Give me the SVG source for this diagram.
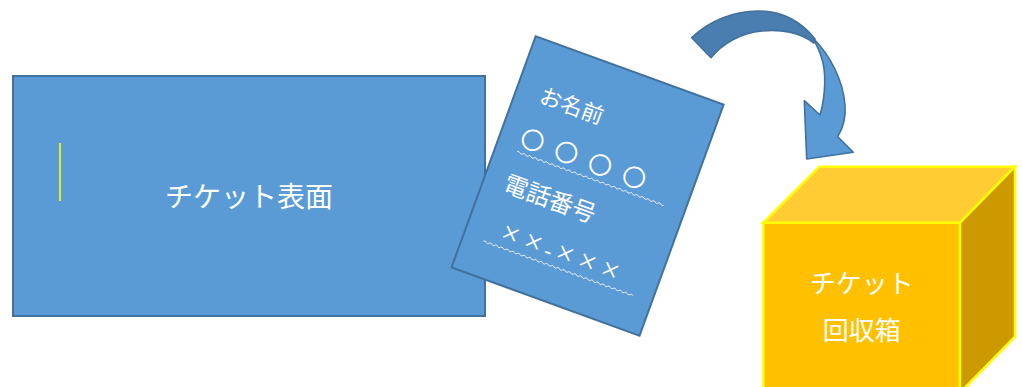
<svg xmlns="http://www.w3.org/2000/svg" width="1022" height="387" viewBox="0 0 1022 387">
<style>
.blue{fill:#5b9bd5;stroke:#41719c;stroke-width:2}
.t{font-family:"Liberation Serif","Noto Sans CJK JP",serif;fill:#ffffff}
.wave{fill:none;stroke:#e4edf7;stroke-width:0.9}
.cube{stroke:#ffff00;stroke-width:2.5;stroke-linejoin:miter}
</style>
<rect width="1022" height="387" fill="#ffffff"/>
<g id="ticket-face">
<rect class="blue" x="13" y="76" width="472" height="240"/>
<line x1="60" y1="143" x2="60" y2="201" stroke="#ffff00" stroke-width="1.6"/>
<text class="t" x="249" y="207" font-size="28" text-anchor="middle">チケット表面</text>
</g>
<g id="ticket-back" transform="translate(587.6,186) rotate(20)">
<rect class="blue" x="-100" y="-123" width="200" height="246"/>
<text class="t" x="-75.3" y="-62" font-size="22">お名前</text>
<text class="t" x="-79.3 -61.3 -43.3 -25.3 -7.3 10.7 28.7" y="-15" font-size="24">〇 〇 〇 〇</text>
<path class="wave" d="M -78 -8 q 1.5 -1.8 3 0 t 3 0 t 3 0 t 3 0 t 3 0 t 3 0 t 3 0 t 3 0 t 3 0 t 3 0 t 3 0 t 3 0 t 3 0 t 3 0 t 3 0 t 3 0 t 3 0 t 3 0 t 3 0 t 3 0 t 3 0 t 3 0 t 3 0 t 3 0 t 3 0 t 3 0 t 3 0 t 3 0 t 3 0 t 3 0 t 3 0 t 3 0 t 3 0 t 3 0 t 3 0 t 3 0 t 3 0 t 3 0 t 3 0 t 3 0 t 3 0 t 3 0 t 3 0 t 3 0 t 3 0 t 3 0 t 3 0 t 3 0 t 3 0 t 3 0 t 3 0 t 3 0"/>
<text class="t" x="-79" y="33.5" font-size="24">電話番号</text>
<text class="t" y="81.5" font-size="32"><tspan x="-64.8 -40.7">××</tspan><tspan x="-18.4" font-size="22">-</tspan><tspan x="-6.8 16.9 41.1">×××</tspan></text>
<path class="wave" d="M -79 87.5 q 1.5 -1.8 3 0 t 3 0 t 3 0 t 3 0 t 3 0 t 3 0 t 3 0 t 3 0 t 3 0 t 3 0 t 3 0 t 3 0 t 3 0 t 3 0 t 3 0 t 3 0 t 3 0 t 3 0 t 3 0 t 3 0 t 3 0 t 3 0 t 3 0 t 3 0 t 3 0 t 3 0 t 3 0 t 3 0 t 3 0 t 3 0 t 3 0 t 3 0 t 3 0 t 3 0 t 3 0 t 3 0 t 3 0 t 3 0 t 3 0 t 3 0 t 3 0 t 3 0 t 3 0 t 3 0 t 3 0 t 3 0 t 3 0 t 3 0 t 3 0 t 3 0 t 3 0 t 3 0 t 3 0"/>
</g>
<g id="connectors">
<path d="M 691.7 37.7 C 710 20, 735 11, 758 11 C 780 11, 800 20, 815 39 L 814 43 C 800 32, 780 29, 762 31 C 740 33, 722 44, 711 57.7 Z" fill="#4a7eb0" stroke="#41719c" stroke-width="1.6" stroke-linejoin="round"/>
<path d="M 813 38 C 830 55, 843 80, 845 105 C 846 118, 843 128, 837.7 136.7 L 853.3 152.3 L 806.7 159 L 804.3 100.7 L 820 115 C 826 95, 826 70, 821.7 58.3 C 820 52, 817 46, 813 38 Z" fill="#5b9bd5" stroke="#41719c" stroke-width="1.6" stroke-linejoin="round"/>
</g>
<g id="collection-box">
<polygon class="cube" points="763.3,222.7 960,222.7 960,400 763.3,400" fill="#ffc000"/>
<polygon class="cube" points="763.3,222.7 819.3,166.7 1015,166.7 960,222.7" fill="#ffcd33"/>
<polygon class="cube" points="960,222.7 1015,166.7 1015,336.7 960,392.7" fill="#cc9a00"/>
<text class="t" x="861.7" y="293" font-size="26" text-anchor="middle">チケット</text>
<text class="t" x="861.7" y="340" font-size="26" text-anchor="middle">回収箱</text>
</g>
</svg>
